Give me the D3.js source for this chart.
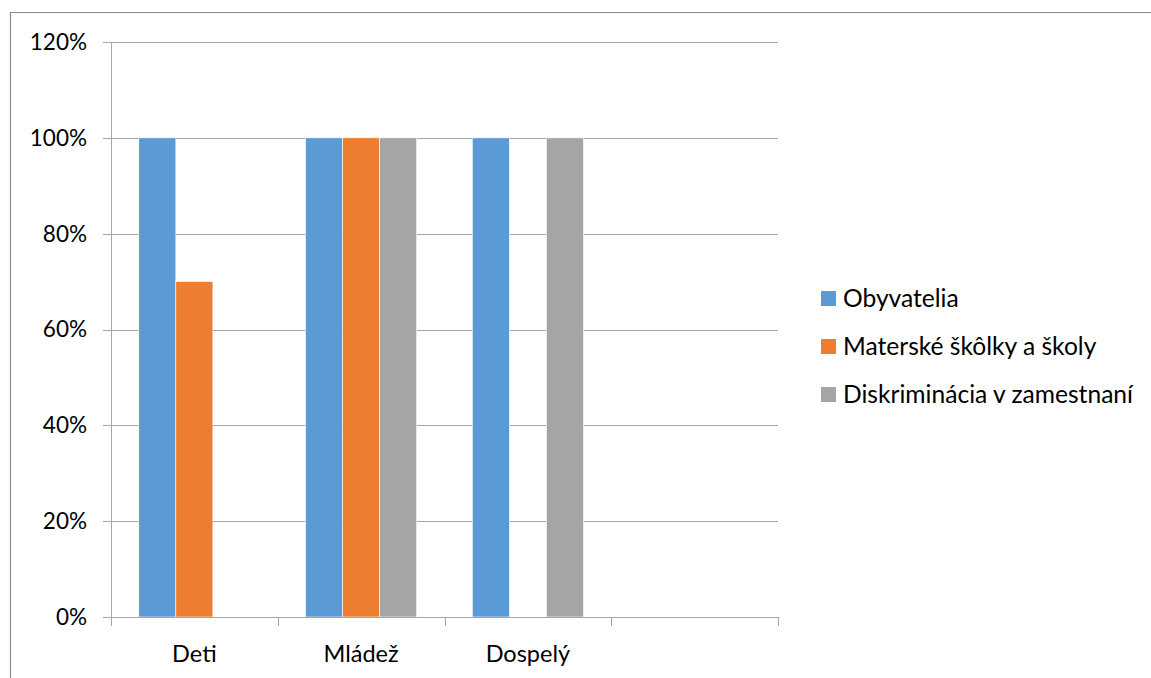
<!DOCTYPE html>
<html>
<head>
<meta charset="utf-8">
<script src="https://cdn.jsdelivr.net/npm/d3@7"></script>
<style>
  html, body { margin: 0; padding: 0; background: #fff; }
  svg { display: block; font-family: Lato, "Open Sans", sans-serif; }
</style>
</head>
<body>
<svg id="chart" width="1151" height="678"></svg>
<script>
// Categories (the last slot is an empty category)
const categories = ["Deti", "Mládež", "Dospelý", ""];
const seriesNames = ["Obyvatelia", "Materské škôlky a školy", "Diskriminácia v zamestnaní"];
const seriesColors = ["#5b9bd5", "#ed7d31", "#a5a5a5"];
// Values in percent, one array per series, aligned with categories
const obyvatelia = [100, 100, 100, null];
const skolky = [70, 100, 0, null];
const diskriminacia = [0, 100, 100, null];
const yTicks = [0, 20, 40, 60, 80, 100, 120];

const seriesValues = [obyvatelia, skolky, diskriminacia];

const svg = d3.select("#chart");
const margin = { left: 111, top: 42, right: 778, bottom: 617 };
const labelSize = 23.5;
const legendSize = 24.6;
const tickSize = 22.5;

// Outer chart frame
svg.append("path")
  .attr("d", "M10.5,678 L10.5,12.5 L1151,12.5")
  .attr("fill", "none").attr("stroke", "#8c8c8c").attr("stroke-width", 1.2);

const x = d3.scaleBand().domain(categories.map((c, i) => i))
  .range([margin.left, margin.right]);
const inner = d3.scaleBand().domain(d3.range(seriesNames.length))
  .range([0, x.bandwidth()]).paddingOuter(0.75).paddingInner(0);
const y = d3.scaleLinear().domain([0, 120]).range([margin.bottom, margin.top]);

// Gridlines
svg.append("g").selectAll("line").data(yTicks.filter(t => t > 0)).join("line")
  .attr("x1", margin.left - 8).attr("x2", margin.right)
  .attr("y1", d => Math.round(y(d)) + 0.5).attr("y2", d => Math.round(y(d)) + 0.5)
  .attr("stroke", "#a6a6a6").attr("stroke-width", 1);

// Y axis labels
svg.append("g").selectAll("text").data(yTicks).join("text")
  .attr("x", 87).attr("y", d => y(d))
  .attr("dy", "0.35em").attr("text-anchor", "end")
  .attr("font-size", tickSize).attr("fill", "#000")
  .text(d => d + "%");

// Bars
const rows = [];
categories.forEach((c, ci) => {
  seriesValues.forEach((vals, si) => {
    if (vals[ci] != null && vals[ci] > 0) rows.push({ ci, si, v: vals[ci] });
  });
});
svg.append("g").selectAll("rect").data(rows).join("rect")
  .attr("x", d => x(d.ci) + inner(d.si))
  .attr("width", inner.bandwidth())
  .attr("y", d => y(d.v))
  .attr("height", d => y(0) - y(d.v))
  .attr("fill", d => seriesColors[d.si])
  .attr("stroke", "#fff").attr("stroke-width", 0.6);

// Y axis line
svg.append("line")
  .attr("x1", margin.left + 0.5).attr("x2", margin.left + 0.5)
  .attr("y1", margin.top).attr("y2", margin.bottom)
  .attr("stroke", "#a6a6a6");
svg.append("line")
  .attr("x1", margin.left - 8).attr("x2", margin.left)
  .attr("y1", Math.round(y(0)) + 0.5).attr("y2", Math.round(y(0)) + 0.5)
  .attr("stroke", "#a6a6a6");

// X axis with category ticks at band boundaries
svg.append("line")
  .attr("x1", margin.left).attr("x2", margin.right)
  .attr("y1", Math.round(y(0)) + 0.5).attr("y2", Math.round(y(0)) + 0.5)
  .attr("stroke", "#a6a6a6");
const boundaries = categories.map((c, i) => x(i)).concat([margin.right]);
svg.append("g").selectAll("line").data(boundaries).join("line")
  .attr("x1", d => Math.round(d) + 0.5).attr("x2", d => Math.round(d) + 0.5)
  .attr("y1", y(0)).attr("y2", y(0) + 9)
  .attr("stroke", "#a6a6a6");

svg.append("g").selectAll("text").data(categories).join("text")
  .attr("x", (d, i) => x(i) + x.bandwidth() / 2)
  .attr("y", 662).attr("text-anchor", "middle")
  .attr("font-size", labelSize).attr("fill", "#000")
  .text(d => d);

// Legend
const legend = svg.append("g").selectAll("g").data(seriesNames).join("g")
  .attr("transform", (d, i) => `translate(821, ${291 + i * 48})`);
legend.append("rect").attr("width", 15).attr("height", 15)
  .attr("fill", (d, i) => seriesColors[i]);
legend.append("text").attr("x", 22).attr("y", 7.5).attr("dy", "0.35em")
  .attr("font-size", legendSize).attr("fill", "#000")
  .text(d => d);
</script>
</body>
</html>
